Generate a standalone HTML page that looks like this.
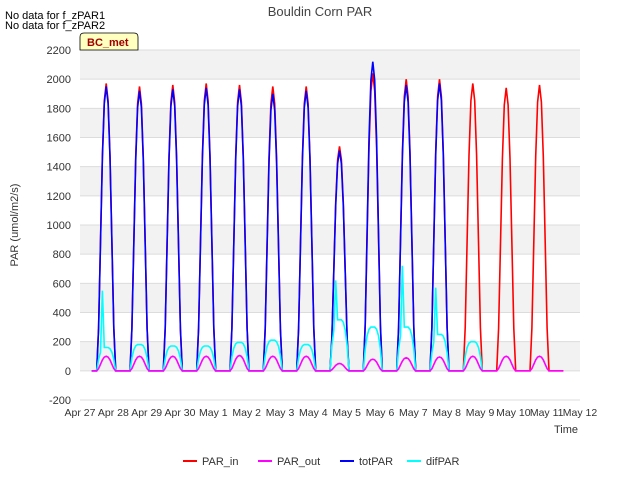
<!DOCTYPE html>
<html><head><meta charset="utf-8"><style>
body{margin:0;background:#fff;font-family:"Liberation Sans",sans-serif;}
</style></head><body>
<svg width="640" height="480" xmlns="http://www.w3.org/2000/svg" font-family="Liberation Sans, sans-serif">
<g id="bg"></g>
<g id="axes"></g>
<g id="series"></g>
<text x="320" y="16" text-anchor="middle" font-size="13" fill="#444">Bouldin Corn PAR</text>
<text x="5" y="19" font-size="11" fill="#000">No data for f_zPAR1</text>
<text x="5" y="29" font-size="11" fill="#000">No data for f_zPAR2</text>
<g>
<path d="M80,50 L80,37 Q80,33 84,33 L134,33 Q138,33 138,37 L138,50 Z" fill="#ffffc0" stroke="#000" stroke-width="0.8"/>
<text x="87" y="46" font-size="11" font-weight="bold" fill="#a00000">BC_met</text>
</g>
<text x="18" y="225" font-size="11" fill="#333" transform="rotate(-90 18 225)" text-anchor="middle">PAR (umol/m2/s)</text>
<text x="578" y="433" font-size="11" fill="#333" text-anchor="end">Time</text>
<g id="legend"></g>
</svg>
<script>
const NS="http://www.w3.org/2000/svg";
const yTicks=[-200,0,200,400,600,800,1000,1200,1400,1600,1800,2000,2200];
const xTickLabels=["Apr 27","Apr 28","Apr 29","Apr 30","May 1","May 2","May 3","May 4","May 5","May 6","May 7","May 8","May 9","May 10","May 11","May 12"];
const parInPeaks=[1970,1950,1960,1970,1960,1950,1950,1540,2040,2000,2000,1970,1940,1960];
const parOutPeaks=[100,100,100,100,105,100,100,50,80,90,95,100,100,100];
const totParPeaks=[1950,1920,1930,1940,1930,1900,1920,1510,2120,1960,1970,null,null,null];
const difParPeaks=[160,180,170,170,195,210,180,350,300,300,250,200,null,null];
const difSpikes=[550,0,0,0,0,0,0,620,0,720,570,0,0,0];
const profile=[0,0.15,0.45,0.75,0.94,1,0.94,0.75,0.45,0.15,0];
const difProfile=[0,0.5,0.8,0.95,1,1,1,0.95,0.8,0.5,0];
const X0=80,X1=580,Y0=400,Y1=50,ymin=-200,ymax=2200,dmin=0,dmax=15;
const xs=d=>X0+(d-dmin)/(dmax-dmin)*(X1-X0);
const ys=v=>Y0-(v-ymin)/(ymax-ymin)*(Y0-Y1);
function el(t,a,p){const e=document.createElementNS(NS,t);for(const k in a)e.setAttribute(k,a[k]);p.appendChild(e);return e;}
const bg=document.getElementById('bg'),ax=document.getElementById('axes'),se=document.getElementById('series'),lg=document.getElementById('legend');
for(let i=0;i<yTicks.length-1;i++){const a=yTicks[i],b=yTicks[i+1];
 const r=el('rect',{x:X0,y:ys(b),width:X1-X0,height:ys(a)-ys(b),fill:(i%2==1)?'#f2f2f2':'#ffffff'},bg);
 }
yTicks.forEach(v=>{const l=el('line',{x1:X0,x2:X1,y1:ys(v),y2:ys(v),stroke:'#dcdcdc','stroke-width':1},bg);
 
 const t=el('text',{x:X0-9,y:ys(v)+4,'text-anchor':'end','font-size':11,fill:'#333'},ax);t.textContent=v;
 });
xTickLabels.forEach((s,i)=>{const t=el('text',{x:xs(i),y:416,'text-anchor':'middle','font-size':10.5,fill:'#333'},ax);t.textContent=s;
 });
function build(peaks,extra,prof){let pts=[[0.35,0]];
 peaks.forEach((p,d)=>{if(p===null)return;const st=d+0.5,en=d+1.07;
  prof.forEach((f,k)=>{let v=p*f;if(extra&&extra[d]&&k==3)v=extra[d];pts.push([st+(en-st)*k/(prof.length-1),v]);});
  pts.push([d+1.5,0]);});
 return pts.map(q=>xs(q[0]).toFixed(1)+','+ys(q[1]).toFixed(1)).join(' ');}
const series=[["PAR_in","#ff0000",parInPeaks,null,profile],["totPAR","#0000ff",totParPeaks,null,profile],["difPAR","#00ffff",difParPeaks,difSpikes,difProfile],["PAR_out","#ff00ff",parOutPeaks,null,profile]];
series.forEach(s=>{const p=el('polyline',{points:build(s[2],s[3],s[4]),fill:'none',stroke:s[1],'stroke-width':1.6},se);
 });
const legItems=[["PAR_in","#ff0000",183],["PAR_out","#ff00ff",258],["totPAR","#0000ff",340],["difPAR","#00ffff",407]];
legItems.forEach(li=>{const g=el('g',{},lg);
 el('line',{x1:li[2],x2:li[2]+14,y1:461,y2:461,stroke:li[1],'stroke-width':2},g);
 const t=el('text',{x:li[2]+19,y:465,'font-size':11,fill:'#333'},g);t.textContent=li[0];});
</script>
</body></html>
